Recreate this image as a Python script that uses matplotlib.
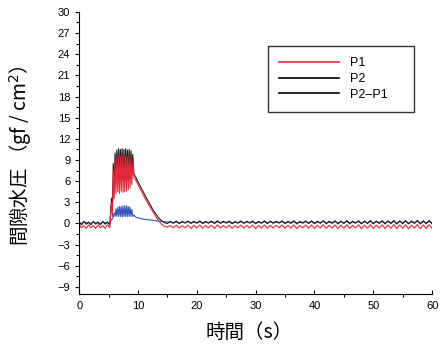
"""
Pore water pressure record (P1, P2, P2-P1) vs time, values read off the scan.
"""
import matplotlib.pyplot as plt
from matplotlib.lines import Line2D

plt.rcParams['font.family'] = ['Liberation Sans', 'DejaVu Sans']
JP = ['Noto Sans CJK JP', 'DejaVu Sans']

# --- time [s] ---
t_base = [0.0, 0.4, 0.8, 1.2, 1.6, 2.0, 2.4, 2.8, 3.2, 3.6, 4.0, 4.4, 4.8, 5.2]
t_load = [5.5, 5.65, 5.8, 5.95, 6.1, 6.25, 6.4, 6.55, 6.7, 6.85, 7.0, 7.15, 7.3,
          7.45, 7.6, 7.75, 7.9, 8.05, 8.2, 8.35, 8.5, 8.65, 8.8, 8.95, 9.1]
t_decay = [9.3, 9.6, 10.0, 10.5, 11.0, 11.5, 12.0, 12.5, 13.0, 13.5, 14.0, 14.5, 15.0]
t_tail = [15.5, 16.0, 16.5, 17.0, 17.5, 18.0, 18.5, 19.0, 19.5, 20.0,
          20.5, 21.0, 21.5, 22.0, 22.5, 23.0, 23.5, 24.0, 24.5, 25.0,
          25.5, 26.0, 26.5, 27.0, 27.5, 28.0, 28.5, 29.0, 29.5, 30.0,
          30.5, 31.0, 31.5, 32.0, 32.5, 33.0, 33.5, 34.0, 34.5, 35.0,
          35.5, 36.0, 36.5, 37.0, 37.5, 38.0, 38.5, 39.0, 39.5, 40.0,
          40.5, 41.0, 41.5, 42.0, 42.5, 43.0, 43.5, 44.0, 44.5, 45.0,
          45.5, 46.0, 46.5, 47.0, 47.5, 48.0, 48.5, 49.0, 49.5, 50.0,
          50.5, 51.0, 51.5, 52.0, 52.5, 53.0, 53.5, 54.0, 54.5, 55.0,
          55.5, 56.0, 56.5, 57.0, 57.5, 58.0, 58.5, 59.0, 59.5, 60.0]

# --- P1 [gf/cm2] ---
p1_base = [-0.2, -0.6, -0.3, -0.7, -0.2, -0.6, -0.3, -0.7, -0.2, -0.6, -0.3, -0.7, -0.2, -0.6]
p1_load = [3.0, 1.0, 7.5, 3.5, 9.0, 4.2, 9.4, 4.5, 9.6, 4.3, 9.5, 4.6, 9.7,
           4.4, 9.5, 4.5, 9.6, 4.6, 9.4, 4.8, 9.5, 5.0, 9.3, 5.5, 8.8]
p1_decay = [6.5, 6.2, 5.5, 4.7, 3.9, 3.1, 2.4, 1.7, 1.0, 0.4, -0.1, -0.4, -0.5]
p1_tail = [-0.30, -0.62, -0.25, -0.66, -0.32, -0.60, -0.24, -0.70, -0.28, -0.63,
           -0.22, -0.67, -0.30, -0.61, -0.26, -0.69, -0.20, -0.64, -0.29, -0.62,
           -0.25, -0.70, -0.31, -0.60, -0.22, -0.66, -0.27, -0.63, -0.24, -0.71,
           -0.30, -0.62, -0.21, -0.68, -0.26, -0.64, -0.28, -0.60, -0.23, -0.69,
           -0.27, -0.65, -0.20, -0.72, -0.29, -0.61, -0.24, -0.67, -0.22, -0.70,
           -0.26, -0.63, -0.19, -0.71, -0.28, -0.64, -0.21, -0.73, -0.25, -0.66,
           -0.18, -0.70, -0.27, -0.62, -0.20, -0.74, -0.23, -0.68, -0.17, -0.72,
           -0.24, -0.65, -0.19, -0.73, -0.22, -0.67, -0.16, -0.75, -0.21, -0.69,
           -0.18, -0.74, -0.23, -0.66, -0.15, -0.76, -0.20, -0.71, -0.17, -0.70]

# --- P2 ---
p2_base = [0.2, -0.2, 0.3, -0.1, 0.2, -0.2, 0.3, -0.1, 0.2, -0.2, 0.3, -0.1, 0.2, -0.2]
p2_load = [3.6, 1.6, 8.5, 5.0, 10.0, 6.3, 10.4, 6.8, 10.6, 6.7, 10.5, 7.0, 10.6,
           6.9, 10.5, 7.0, 10.6, 7.1, 10.4, 7.2, 10.5, 7.3, 10.3, 7.5, 9.8]
p2_decay = [7.0, 6.6, 5.9, 5.1, 4.3, 3.5, 2.8, 2.0, 1.4, 0.8, 0.4, 0.1, 0.0]
p2_tail = [0.30, 0.02, 0.35, -0.02, 0.28, 0.05, 0.34, 0.00, 0.31, 0.03,
           0.36, -0.03, 0.29, 0.04, 0.33, -0.01, 0.38, 0.02, 0.30, 0.05,
           0.34, -0.04, 0.28, 0.03, 0.37, 0.00, 0.32, 0.04, 0.35, -0.05,
           0.29, 0.02, 0.38, -0.03, 0.33, 0.01, 0.31, 0.05, 0.36, -0.02,
           0.32, 0.00, 0.39, -0.06, 0.30, 0.03, 0.35, -0.01, 0.37, -0.04,
           0.33, 0.02, 0.40, -0.05, 0.31, 0.01, 0.38, -0.06, 0.34, 0.00,
           0.41, -0.04, 0.32, 0.03, 0.39, -0.07, 0.36, -0.02, 0.42, -0.05,
           0.35, 0.01, 0.40, -0.06, 0.37, -0.01, 0.43, -0.08, 0.38, -0.03,
           0.41, -0.07, 0.36, 0.00, 0.44, -0.08, 0.39, -0.04, 0.42, -0.05]

# --- P2-P1 (sits in the P2 band outside loading) ---
d_base = [0.1, 0.0, 0.2, 0.1, 0.1, 0.0, 0.2, 0.1, 0.1, 0.0, 0.2, 0.1, 0.1, 0.0]
d_load = [0.6, 0.6, 1.0, 1.5, 1.0, 2.1, 1.0, 2.3, 1.0, 2.4, 1.0, 2.4, 0.9,
          2.5, 1.0, 2.5, 1.0, 2.5, 1.0, 2.4, 1.0, 2.3, 1.0, 2.0, 1.0]
d_decay = [1.2, 0.9, 0.8, 0.7, 0.6, 0.55, 0.5, 0.45, 0.4, 0.35, 0.3, 0.25, 0.2]
d_tail = [0.20, 0.12, 0.22, 0.10, 0.19, 0.14, 0.23, 0.11, 0.20, 0.13,
          0.24, 0.09, 0.18, 0.15, 0.21, 0.10, 0.25, 0.12, 0.19, 0.14,
          0.22, 0.08, 0.17, 0.13, 0.24, 0.11, 0.20, 0.15, 0.23, 0.07,
          0.18, 0.12, 0.26, 0.09, 0.21, 0.13, 0.19, 0.16, 0.24, 0.10,
          0.20, 0.11, 0.27, 0.06, 0.18, 0.14, 0.23, 0.10, 0.25, 0.08,
          0.21, 0.12, 0.28, 0.07, 0.19, 0.13, 0.26, 0.05, 0.22, 0.11,
          0.29, 0.08, 0.20, 0.14, 0.27, 0.04, 0.24, 0.10, 0.30, 0.07,
          0.23, 0.12, 0.28, 0.05, 0.25, 0.11, 0.31, 0.03, 0.26, 0.09,
          0.29, 0.04, 0.24, 0.12, 0.32, 0.03, 0.27, 0.08, 0.30, 0.07]

t = t_base + t_load + t_decay + t_tail
p1 = p1_base + p1_load + p1_decay + p1_tail
p2 = p2_base + p2_load + p2_decay + p2_tail
dp = d_base + d_load + d_decay + d_tail

fig = plt.figure(figsize=(4.4, 3.5), dpi=100)
ax = fig.add_axes([0.18, 0.16, 0.802, 0.806])

ax.plot(t, dp, color='#3a55b8', lw=0.8)
ax.plot(t, p2, color='#1a1a1a', lw=0.8)
ax.plot(t, p1, color='#e0283a', lw=0.8)

ax.set_xlim(0, 60)
ax.set_ylim(-10, 30)
ax.set_xticks(range(0, 61, 10))
ax.set_xticks(range(5, 60, 10), minor=True)
ax.set_yticks(range(-9, 31, 3))
ax.set_yticks([v + 1.5 for v in range(-9, 30, 3)], minor=True)
ax.tick_params(axis='both', labelsize=8, width=0.8, length=3)
ax.tick_params(axis='both', which='minor', width=0.8, length=2)
ax.tick_params(axis='x', direction='in', pad=5)
ax.spines['top'].set_visible(False)
ax.spines['right'].set_visible(False)

ax.set_xlabel('時間（s）', family=JP, fontsize=14, va='top')
ax.xaxis.set_label_coords(0.482, -0.1)
ax.set_ylabel('間隙水圧 （gf / cm$^2$）', family=JP, fontsize=14)
ax.yaxis.set_label_coords(-0.128, 0.49)

handles = [Line2D([], [], color='#e0283a', lw=1.2),
           Line2D([], [], color='black', lw=1.2),
           Line2D([], [], color='black', lw=1.2)]
leg = ax.legend(handles, ['P1', 'P2', 'P2–P1'], loc='upper left',
                bbox_to_anchor=(0.535, 0.642, 0.413, 0.237), mode='expand',
                fontsize=9, handlelength=4.8, frameon=True, fancybox=False,
                borderpad=0.9, labelspacing=0.3, handletextpad=0.9,
                borderaxespad=0)
leg.get_frame().set_edgecolor('black')
leg.get_frame().set_linewidth(1.0)

plt.savefig('out.png', dpi=100)
